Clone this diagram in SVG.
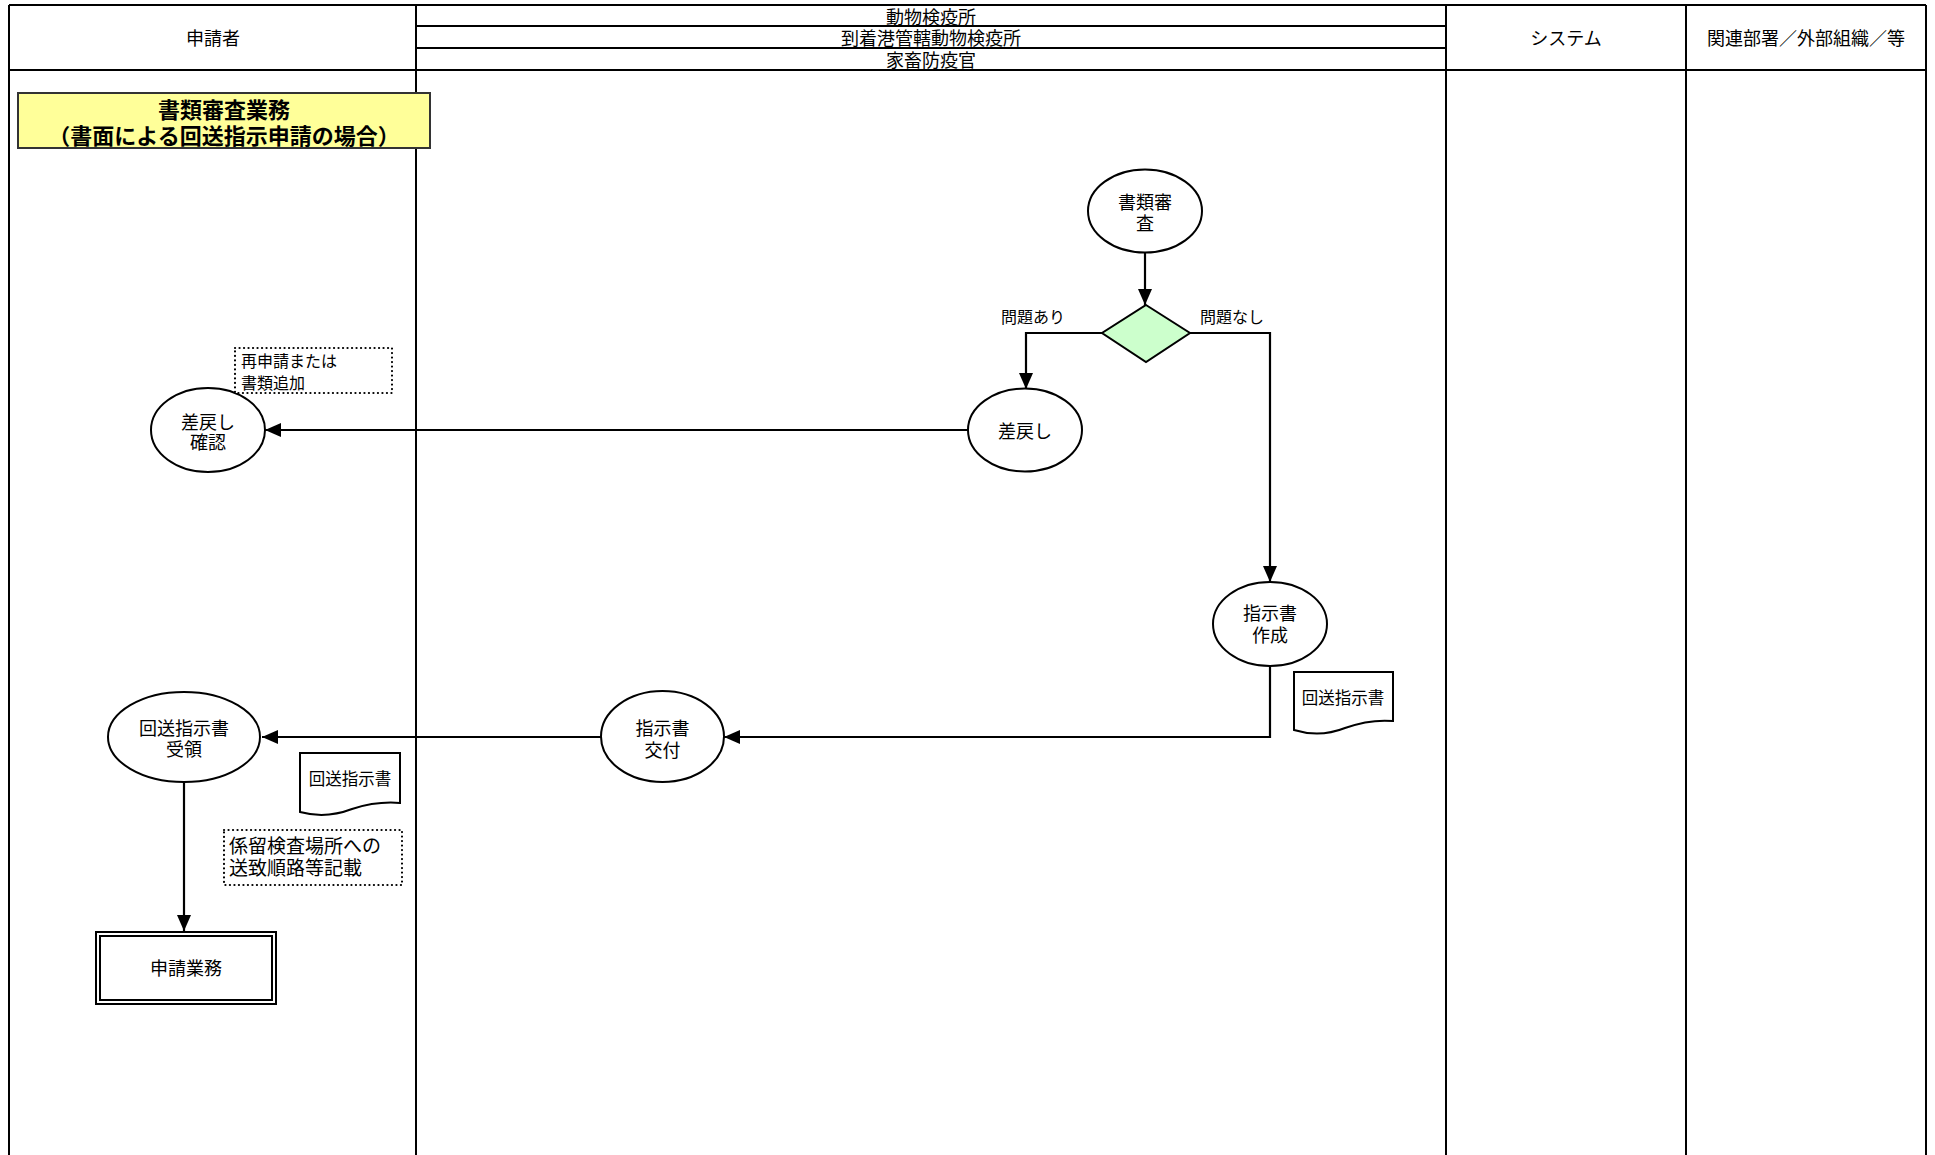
<svg xmlns="http://www.w3.org/2000/svg" width="1935" height="1155" viewBox="0 0 1935 1155">
<style>
text{font-family:"Noto Sans CJK JP","Liberation Sans",sans-serif;fill:#000;dominant-baseline:central}
.h{font-size:18px;text-anchor:middle}
.n{font-size:18px;text-anchor:middle}
.s{font-size:16px}
.lane{stroke:#000;stroke-width:2;fill:none}
.node{fill:#fff;stroke:#000;stroke-width:2}
.conn{fill:none;stroke:#000;stroke-width:2.2}
.note{fill:#fff;stroke:#000;stroke-width:2.2;stroke-dasharray:0.1 4.4;stroke-linecap:round}
</style>
<defs>
<marker id="arr" markerUnits="userSpaceOnUse" markerWidth="16" markerHeight="14" refX="16" refY="7" orient="auto">
<path d="M0,0 L16,7 L0,14 Z" fill="#000"/>
</marker>
</defs>
<rect width="1935" height="1155" fill="#fff"/>
<g id="lanes">
<line class="lane" x1="9" y1="5" x2="1926" y2="5"/>
<line class="lane" x1="9" y1="5" x2="9" y2="1155"/>
<line class="lane" x1="416" y1="5" x2="416" y2="1155" stroke-width="2.5"/>
<line class="lane" x1="1446" y1="5" x2="1446" y2="1155"/>
<line class="lane" x1="1686" y1="5" x2="1686" y2="1155"/>
<line class="lane" x1="1926" y1="5" x2="1926" y2="1155"/>
<line class="lane" x1="416" y1="26" x2="1446" y2="26" stroke-width="1.5"/>
<line class="lane" x1="416" y1="48" x2="1446" y2="48" stroke-width="1.5"/>
<line class="lane" x1="9" y1="70" x2="1926" y2="70" stroke-width="3"/>
<text class="h" x="213" y="37">申請者</text>
<text class="h" x="931" y="16">動物検疫所</text>
<text class="h" x="931" y="37">到着港管轄動物検疫所</text>
<text class="h" x="931" y="59">家畜防疫官</text>
<text class="h" x="1566" y="37">システム</text>
<text class="h" x="1806" y="37">関連部署／外部組織／等</text>
</g>
<g id="title">
<rect x="18" y="93" width="412" height="55" fill="#FFFF99" stroke="#333" stroke-width="2"/>
<text x="224" y="108" font-size="22" font-weight="bold" text-anchor="middle">書類審査業務</text>
<text x="224" y="134" font-size="22" font-weight="bold" text-anchor="middle">（書面による回送指示申請の場合）</text>
</g>
<g id="connectors">
<path class="conn" d="M1145,253 V305" marker-end="url(#arr)"/>
<path class="conn" d="M1102,333 H1026 V389" marker-end="url(#arr)"/>
<path class="conn" d="M1190,333 H1270 V582" marker-end="url(#arr)"/>
<path class="conn" d="M968,430 H265" marker-end="url(#arr)"/>
<path class="conn" d="M1270,666 V737 H724" marker-end="url(#arr)"/>
<path class="conn" d="M601,737 H262" marker-end="url(#arr)"/>
<path class="conn" d="M184,782 V931" marker-end="url(#arr)"/>
<text class="s" x="1033" y="316" text-anchor="middle">問題あり</text>
<text class="s" x="1232" y="316" text-anchor="middle">問題なし</text>
</g>
<g id="n-shorui-shinsa">
<ellipse class="node" cx="1145" cy="211" rx="57" ry="41.5"/>
<text class="n" x="1145" y="201">書類審</text>
<text class="n" x="1145" y="222">査</text>
</g>
<g id="n-decision">
<path d="M1146,305 L1190,333 L1146,362 L1102,333 Z" fill="#CCFFCC" stroke="#000" stroke-width="2"/>
</g>
<g id="n-sashimodoshi">
<ellipse class="node" cx="1025" cy="430" rx="57" ry="41.5"/>
<text class="n" x="1025" y="430">差戻し</text>
</g>
<g id="n-sashimodoshi-kakunin">
<ellipse class="node" cx="208" cy="430" rx="57" ry="42"/>
<text class="n" x="208" y="421">差戻し</text>
<text class="n" x="208" y="441">確認</text>
</g>
<g id="note-saishinsei">
<rect class="note" x="235" y="348" width="157" height="45"/>
<text class="s" x="241" y="360">再申請または</text>
<text class="s" x="241" y="382">書類追加</text>
</g>
<g id="n-shijisho-sakusei">
<ellipse class="node" cx="1270" cy="624" rx="57" ry="42"/>
<text class="n" x="1270" y="612">指示書</text>
<text class="n" x="1270" y="634">作成</text>
</g>
<g id="doc-right">
<path class="node" d="M1294,672 H1393 V721 Q1370,719 1345,728 Q1320,738 1294,730 Z"/>
<text x="1343" y="697" font-size="16.5" text-anchor="middle">回送指示書</text>
</g>
<g id="n-shijisho-kofu">
<ellipse class="node" cx="662.5" cy="736.5" rx="61.5" ry="45.5"/>
<text class="n" x="662.5" y="727">指示書</text>
<text class="n" x="662.5" y="749">交付</text>
</g>
<g id="n-juryo">
<ellipse class="node" cx="184" cy="737" rx="76" ry="45"/>
<text class="n" x="184" y="727">回送指示書</text>
<text class="n" x="184" y="748">受領</text>
</g>
<g id="doc-left">
<path class="node" d="M300,753 H400 V803 Q377,801 352,809 Q326,819 300,812 Z"/>
<text x="350" y="778" font-size="16.5" text-anchor="middle">回送指示書</text>
</g>
<g id="note-keiryu">
<rect class="note" x="224" y="830" width="178" height="55"/>
<text x="229" y="844" font-size="19">係留検査場所への</text>
<text x="229" y="866" font-size="19">送致順路等記載</text>
</g>
<g id="n-shinsei-gyomu">
<rect x="96" y="932" width="180" height="72" fill="#fff" stroke="#000" stroke-width="2"/>
<rect x="100" y="936" width="172" height="64" fill="none" stroke="#000" stroke-width="2"/>
<text class="n" x="186" y="967">申請業務</text>
</g>
</svg>
